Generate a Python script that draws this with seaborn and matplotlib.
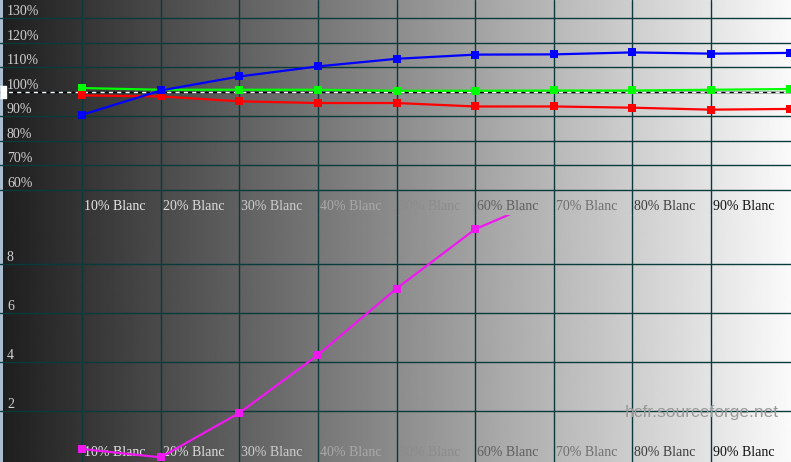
import numpy as np
import pandas as pd
import matplotlib
matplotlib.use("Agg")
import matplotlib.pyplot as plt
import seaborn as sns

# ---- data ----
levels = [10, 20, 30, 40, 50, 60, 70, 80, 90, 100]
level_labels = ["10% Blanc", "20% Blanc", "30% Blanc", "40% Blanc", "50% Blanc",
                "60% Blanc", "70% Blanc", "80% Blanc", "90% Blanc"]
red_pct = [98.5, 98.1, 96.1, 95.4, 95.4, 94.0, 94.0, 93.5, 92.7, 93.0]
green_pct = [101.5, 100.8, 100.8, 100.8, 100.4, 100.4, 100.5, 100.5, 100.8, 101.1]
blue_pct = [90.6, 100.5, 106.2, 110.3, 113.4, 115.1, 115.2, 116.0, 115.5, 115.8]
delta_levels = [10, 20, 30, 40, 50, 60, 70]
delta_e = [0.45, 0.11, 1.92, 4.29, 7.0, 9.42, 10.8]
top_ticks = [60, 70, 80, 90, 100, 110, 120, 130]
top_tick_labels = ["60%", "70%", "80%", "90%", "100%", "110%", "120%", "130%"]
bottom_ticks = [2, 4, 6, 8]
bottom_tick_labels = ["2", "4", "6", "8"]

# ---- styles ----
label_colors = ["#e8e8e8", "#dedede", "#cfcfcf", "#a9a9a9", "#8c8c8c",
                "#5e5e5e", "#6e6e6e", "#3c3c3c", "#101010"]
grid_color = "#0a3a3a"
serif = ["Liberation Serif", "DejaVu Serif"]

sns.set_theme(style="white")
plt.rcParams["font.family"] = serif

fig = plt.figure(figsize=(7.91, 4.62), dpi=100)

# background gradient
bg = fig.add_axes([0, 0, 1, 1], zorder=0)
grad = np.linspace(30, 250, 512).reshape(1, -1)
bg.imshow(grad, aspect="auto", cmap="gray", vmin=0, vmax=255,
          extent=[0, 1, 0, 1], interpolation="bilinear")
bg.set_xlim(0, 1); bg.set_ylim(0, 1)
bg.axis("off")
bg.add_patch(plt.Rectangle((0, 0), 3 / 791, 1, color="#a9bcd0", lw=0))

top = fig.add_axes([0, 247 / 462, 1, 215 / 462], zorder=2)
bot = fig.add_axes([0, 0, 1, 247 / 462], zorder=1)

for ax in (top, bot):
    ax.set_facecolor("none")
    ax.set_xlim(-0.43, 100.17)
    ax.set_xticks(levels[:-1])
    ax.tick_params(length=0, labelbottom=False, labelleft=False)
    ax.grid(True, color=grid_color, lw=1.0)
    for s in ax.spines.values():
        s.set_visible(False)
    for lv, lab, col in zip(levels, level_labels, label_colors):
        ax.annotate(lab, xy=(lv, 0), xycoords=("data", "axes fraction"),
                    xytext=(1.5, 5.8 if ax is top else 7.2), textcoords="offset points",
                    ha="left", va="center", fontsize=10, color=col, family=serif)

top.set_ylim(49.83, 137.33)
top.set_yticks(top_ticks)
bot.set_ylim(-0.08, 10)
bot.set_yticks(bottom_ticks)

for ax, ticks, labs in ((top, top_ticks, top_tick_labels), (bot, bottom_ticks, bottom_tick_labels)):
    for t, l in zip(ticks, labs):
        ax.annotate(l, xy=(0, t), xycoords=("axes fraction", "data"),
                    xytext=(5, 0), textcoords="offset points",
                    ha="left", va="bottom", fontsize=10, color="#d2d2d2", family=serif)

# reference 100% line
top.axhline(100, color="black", lw=1, zorder=3)
top.axhline(100, color="white", lw=1, ls=(0, (3, 3)), zorder=3)
top.plot([0], [100], marker=[(-0.5, -1), (0.5, -1), (0.5, 1), (-0.5, 1)],
         markersize=8, color="white", mec="white", zorder=4, clip_on=False)

df = pd.DataFrame({
    "level": levels * 3,
    "value": red_pct + green_pct + blue_pct,
    "channel": ["R"] * 10 + ["G"] * 10 + ["B"] * 10,
})
sns.lineplot(data=df, x="level", y="value", hue="channel",
             hue_order=["G", "R", "B"],
             palette={"R": "#ff0000", "G": "#00ff00", "B": "#0000ff"},
             marker="s", markersize=6, markeredgewidth=0, linewidth=1.6,
             legend=False, ax=top, zorder=5)

dfe = pd.DataFrame({"level": delta_levels, "dE": delta_e})
sns.lineplot(data=dfe, x="level", y="dE", color="#f018f0", marker="s",
             markersize=6, markeredgewidth=0, linewidth=1.6, legend=False, ax=bot, zorder=5)

for ax in (top, bot):
    ax.set_xlabel(""); ax.set_ylabel("")

fig.text(779 / 791, 1 - 413 / 462, "hcfr.sourceforge.net", ha="right", va="center",
         fontsize=12.5, color="#999999", family=["Liberation Sans", "DejaVu Sans"],
         zorder=10)

fig.savefig("out.png", dpi=100)
